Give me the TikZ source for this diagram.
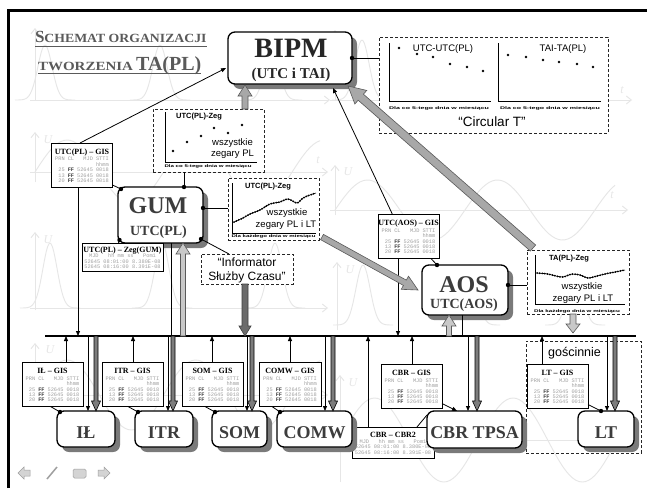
\documentclass[tikz,border=0pt]{standalone}
\usepackage{graphicx}
\usepackage{fontspec}
\setmainfont{Liberation Sans}
\newfontfamily\tnr{Liberation Serif}
\newfontfamily\mono{Liberation Mono}
\usetikzlibrary{calc,arrows.meta,shadows}
\definecolor{bgc}{HTML}{E6E6E6}
\definecolor{shad}{HTML}{7A7A7A}
\definecolor{txtd}{HTML}{3C3C3C}
\definecolor{ttl}{HTML}{5A5A5A}
\definecolor{rowg}{HTML}{A0A0A0}
\definecolor{fatg}{HTML}{A8A8A8}
\definecolor{fatl}{HTML}{C8C8C8}
\definecolor{fatd}{HTML}{7C7C7C}
\definecolor{navg}{HTML}{D4D4D4}

\newcommand\ffx{\textcolor{txtd}{\bfseries FF}}
\newcommand\gtab{{\mono\fontsize{5.3}{6}\selectfont\color{rowg}\setlength\tabcolsep{1.5pt}\renewcommand\arraystretch{0.9}\begin{tabular}{@{}rrrr@{}}PRN&CL&MJD&STTI\\&&&hhmm\\25&\ffx&52645&0018\\13&\ffx&52645&0018\\20&\ffx&52645&0018\end{tabular}}}
\newcommand\gisbox[1]{\begin{tabular}{@{}c@{}}{\tnr\bfseries\fontsize{8}{9}\selectfont #1}\\[-1pt]\gtab\end{tabular}}
\newcommand\zegbox[1]{\begin{tabular}{@{}c@{}}{\tnr\bfseries\fontsize{8}{9}\selectfont #1}\\[-1.5pt]{\mono\fontsize{5.3}{6}\selectfont\color{rowg}\renewcommand\arraystretch{0.9}\begin{tabular}{@{}c@{}}MJD~~~hh~mm~ss~~~Pom1\\52645 08:01:00 8.380E-08\\52645 08:16:00 8.391E-08\end{tabular}}\end{tabular}}
\newcommand\tinyline[2]{\resizebox{#1}{2.8pt}{\bfseries #2}}

\newcommand\fatarrow[6]{%
  \draw[#1] ($(#2)!#4!90:(#3)$)
    -- ($($(#3)!#6!(#2)$)!#4!90:(#3)$)
    -- ($($(#3)!#6!(#2)$)!#5!90:(#3)$)
    -- (#3)
    -- ($($(#3)!#6!(#2)$)!#5!-90:(#3)$)
    -- ($($(#3)!#6!(#2)$)!#4!-90:(#3)$)
    -- ($(#2)!#4!-90:(#3)$) -- cycle;}
\newcommand\thinDown[2]{\path ($(#1.north)+(#2,0)$) coordinate (tmpb); \draw[ar] (tmpb |- busL) -- (tmpb);}
\newcommand\fatDown[2]{\path ($(#1.north)+(#2,0)$) coordinate (tmpb); \path (tmpb |- busL) coordinate (tmpa); \fatarrow{fatD}{tmpa}{tmpb}{2pt}{4.5pt}{10pt}}
\newcommand\upBus[2]{\path ($(#1.north)+(#2,0)$) coordinate (tmpb); \draw[ar] (tmpb) -- (tmpb |- busL);}

\begin{document}
\begin{tikzpicture}[x=1pt,y=-1pt,
  every node/.style={inner sep=0pt, outer sep=0pt},
  mainbox/.style={draw=black, line width=1.3pt, fill=white, rounded corners=7pt,
    general shadow={fill=shad, shadow xshift=5pt, shadow yshift=-5pt}},
  gis/.style={draw=black, line width=0.9pt, fill=white, minimum width=61, minimum height=44},
  dbox/.style={draw=black!85, line width=0.9pt, dash pattern=on 3pt off 2pt, fill=white},
  ln/.style={line width=0.8pt},
  ar/.style={ln, -{Triangle[length=5pt,width=4pt]}},
  big/.style={anchor=base, text=txtd, font={\tnr\bfseries\fontsize{18}{18}\selectfont}},
  ptitle/.style={font={\bfseries\fontsize{7.5}{7.5}\selectfont}},
  plbl/.style={font={\fontsize{9.5}{9.5}\selectfont}},
  bga/.style={bgc, line width=0.9pt},
  bgax/.style={bgc, line width=0.9pt, -{Straight Barb[length=5pt,width=8pt]}},
  bgl/.style={text=bgc, font={\tnr\itshape\fontsize{12}{12}\selectfont}},
  fatA/.style={fill=fatg, draw=black!65, line width=0.6pt},
  fatL/.style={fill=fatl, draw=black!65, line width=0.6pt},
  fatD/.style={fill=fatd, draw=black, line width=0.6pt},
  fatI/.style={fill=black!58, draw=black!75, line width=0.6pt},
  wavy/.style={line width=2pt, dash pattern=on 0pt off 2.6pt, line cap=round}
]
\useasboundingbox (0,0) rectangle (647,488);
\fill[white] (0,0) rectangle (647,488);

% ---------- faint background graphs ----------
\draw[bgax] (35,100) -- (35,28);
\draw[bgax] (30,100) -- (330,100);
\foreach \c in {45,160,272} \draw[bga] plot[domain=-30:30, samples=40] ({\c+\x},{100-55*exp(-((\x/10)*(\x/10)))});
\draw[bgax] (335,100) -- (335,30);
\draw[bgax] (330,100) -- (632,100);
\foreach \c in {362,463,567} \draw[bga] plot[domain=-30:30, samples=40] ({\c+\x},{100-60*exp(-((\x/10)*(\x/10)))});
\node[bgl] (bt1) at (622,90) {t};
\draw[bgax] (35,182) -- (35,132);
\draw[bgax] (30,172) -- (328,172);
\draw[bga] plot[domain=35:320, samples=90] (\x,{172-32*sin(2.8*(\x-35))});
\node[bgl] (bu2) at (48,140) {U};
\node[bgl] (bt2) at (318,160) {t};
\draw[bgax] (335,215) -- (335,165);
\draw[bgax] (330,210) -- (628,210);
\draw[bga] plot[domain=335:615, samples=90] (\x,{210-30*sin(2.77*(\x-335))});
\node[bgl] (bu3) at (348,172) {U};
\node[bgl] (bt3) at (612,195) {t};
\draw[bgax] (35,310) -- (35,232);
\draw[bgax] (30,308) -- (328,308);
\foreach \c in {50,162,275} \draw[bga] plot[domain=-30:30, samples=40] ({\c+\x},{308-65*exp(-((\x/10)*(\x/10)))});
\node[bgl] (bu4) at (48,240) {U};
\draw[bgax] (337,330) -- (337,262);
\foreach \c in {363,470,575} \draw[bga] plot[domain=-30:30, samples=40] ({\c+\x},{325-60*exp(-((\x/10)*(\x/10)))});
\node[bgl] (bu5) at (350,270) {U};
\draw[bgax] (35,405) -- (35,343);
\draw[bgax] (30,395) -- (328,395);
\draw[bga] plot[domain=35:320, samples=90] (\x,{395-35*sin(2.8*(\x-35))});
\node[bgl] (bu6) at (50,350) {U};
\draw[bgax] (340,482) -- (340,375);
\draw[bgax] (335,440) -- (630,440);
\draw[bga] plot[domain=340:620, samples=90] (\x,{440-42*sin(2.6*(\x-340))});
\node[bgl] (bu7) at (353,383) {U};

% ---------- frame ----------
\draw[line width=3pt] (8.5,488) -- (8.5,10) -- (647,10);

% ---------- title ----------
\node[anchor=base west, text=ttl] (t1) at (35,42.3) {\tnr\bfseries\fontsize{17}{17}\selectfont S\fontsize{12.5}{12.5}\selectfont\scalebox{1.1}[1]{CHEMAT ORGANIZACJI}};
\node[anchor=base west, text=ttl] (t2) at (38,70.7) {\tnr\bfseries\fontsize{12.5}{12.5}\selectfont\scalebox{1.2}[1]{TWORZENIA}\ \fontsize{20}{20}\selectfont TA(PL)};
\draw[ttl, line width=0.9pt] ($(t1.base west)+(0,4.5)$) -- ($(t1.base east)+(0,4.5)$);
\draw[ttl, line width=0.9pt] ($(t2.base west)+(0,3)$) -- ($(t2.base east)+(0,3)$);

% ---------- BIPM ----------
\node[mainbox, minimum width=124, minimum height=52] (bipm) at (290,58) {};
\node[anchor=base, text=black!85] (bipm1) at (291,57) {\tnr\bfseries\fontsize{28}{28}\selectfont BIPM};
\node[anchor=base, text=black!85] (bipm2) at (291,78) {\tnr\bfseries\fontsize{15}{15}\selectfont (UTC i TAI)};

% ---------- Circular T ----------
\node[dbox, minimum width=229, minimum height=96] (circ) at (493.5,85) {};
\draw[ln] (389,43) -- (389,101) -- (491,101);
\draw[ln] (498,43) -- (498,101) -- (601,101);
\node[plbl] (ct1) at (443,49.5) {UTC-UTC(PL)};
\node[plbl] (ct2) at (563,49.5) {TAI-TA(PL)};
\foreach \p in {(399,48),(417,54),(433,57),(450,64),(467,67),(483,71),(508,55),(526,57),(543,60),(559,62),(577,64),(593,67)}
  \fill \p circle[radius=1.4pt];
\node (ct3) at (439,109) {\tinyline{100pt}{Dla co 5-tego dnia w miesiącu}};
\node (ct4) at (550,109) {\tinyline{100pt}{Dla co 5-tego dnia w miesiącu}};
\node (ct5) at (492,122) {\fontsize{13.5}{13.5}\selectfont “Circular T”};
\draw[ln] (bipm.east) -- (circ.west |- bipm.east);
\fill (bipm.east) circle[radius=2.2pt];

% ---------- UTC(PL)-Zeg (top) ----------
\node[dbox, minimum width=111, minimum height=63] (zeg1) at (208.5,140.5) {};
\draw[ln] (165,112) -- (165,162) -- (257,162);
\node[ptitle] (z1t) at (199,116.5) {UTC(PL)-Zeg};
\foreach \p in {(173,151),(187,142),(201,136),(214,128),(228,133),(242,125)}
  \fill \p circle[radius=1.4pt];
\node[plbl] (z1a) at (232.5,143.5) {wszystkie};
\node[plbl] (z1b) at (232.5,154.5) {zegary PL};
\node (z1c) at (208,166.5) {\tinyline{87pt}{Dla co 5-tego dnia w miesiącu}};

% ---------- UTC(PL)-Zeg (right of GUM) ----------
\node[dbox, minimum width=91, minimum height=62] (zeg2) at (273.5,209) {};
\draw[ln] (232,183) -- (232,233) -- (316,233);
\node[ptitle] (z2t) at (268,187) {UTC(PL)-Zeg};
\draw[line width=0.6pt] plot[smooth] coordinates {(234,222) (243,218) (250,214) (260,210) (270,204) (280,202) (288,199) (297,203) (303,198) (310,195) (316,193)};
\draw[wavy] plot[smooth] coordinates {(234,222) (243,218) (250,214) (260,210) (270,204) (280,202) (288,199) (297,203) (303,198) (310,195) (316,193)};
\node[plbl] (z2a) at (287,213) {wszystkie};
\node[plbl] (z2b) at (286,225) {zegary PL i LT};
\node (z2c) at (273.5,236.5) {\tinyline{84pt}{Dla każdego dnia w miesiącu}};

% ---------- TA(PL)-Zeg ----------
\node[dbox, minimum width=102, minimum height=64] (tazeg) at (578,282) {};
\draw[ln] (535,255) -- (535,304) -- (625,304);
\node[ptitle] (tz1) at (569,259) {TA(PL)-Zeg};
\draw[line width=0.6pt] plot[smooth] coordinates {(537,273) (548,274) (556,276) (563,277) (572,274) (580,275) (588,278) (597,276) (605,274) (615,272) (625,270)};
\draw[wavy] plot[smooth] coordinates {(537,273) (548,274) (556,276) (563,277) (572,274) (580,275) (588,278) (597,276) (605,274) (615,272) (625,270)};
\node[plbl] (tz2) at (582,287.5) {wszystkie};
\node[plbl] (tz3) at (583,299) {zegary PL i LT};
\node (tz4) at (577,311.5) {\tinyline{86pt}{Dla każdego dnia w miesiącu}};

% ---------- Informator ----------
\node[dbox, minimum width=92, minimum height=30] (info) at (247,269) {};
\node (inf1) at (247,262) {\fontsize{12}{12}\selectfont “Informator};
\node (inf2) at (247,277) {\fontsize{12}{12}\selectfont Służby Czasu”};

% ---------- gościnnie ----------
\node[dbox, fill=none, minimum width=115, minimum height=112] (gosc) at (583.5,397) {};
\node (gos1) at (574.5,353) {\fontsize{12.5}{12.5}\selectfont gościnnie};

% ---------- GUM ----------
\node[gis] (gpl) at (82,165) {\gisbox{UTC(PL) – GIS}};
\node[mainbox, minimum width=85, minimum height=56] (gum) at (160.5,215) {};
\node[anchor=base, text=txtd] (gum1) at (158,213) {\tnr\bfseries\fontsize{24}{24}\selectfont GUM};
\node[anchor=base, text=txtd] (gum2) at (158.5,235) {\tnr\bfseries\fontsize{14}{14}\selectfont UTC(PL)};
\node[draw=black, line width=0.9pt, fill=white, minimum width=81, minimum height=28] (gzg) at (122.5,257) {\zegbox{UTC(PL) – Zeg(GUM)}};

% ---------- AOS ----------
\node[gis] (gaos) at (408.5,236.5) {\gisbox{UTC(AOS) – GIS}};
\node[mainbox, minimum width=86, minimum height=50] (aos) at (465,290) {};
\node[anchor=base, text=txtd] (aos1) at (464,292) {\tnr\bfseries\fontsize{24}{24}\selectfont AOS};
\node[anchor=base, text=txtd] (aos2) at (464,308.5) {\tnr\bfseries\fontsize{14}{14}\selectfont UTC(AOS)};

% ---------- bus ----------
\coordinate (busL) at (45,336);
\coordinate (busR) at (636,336);
\draw[line width=1.2pt] (busL) -- (busR);

% ---------- bottom modules ----------
\node[gis] (gil) at (52.5,384.5) {\gisbox{IŁ – GIS}};
\node[gis] (gitr) at (132.5,384.5) {\gisbox{ITR – GIS}};
\node[gis] (gsom) at (212.5,384.5) {\gisbox{SOM – GIS}};
\node[gis, minimum width=62] (gcomw) at (290,384.5) {\gisbox{COMW – GIS}};
\node[gis] (gcbr) at (411.5,386.5) {\gisbox{CBR – GIS}};
\node[gis] (glt) at (557.5,386.5) {\gisbox{LT – GIS}};
\node[draw=black, line width=0.9pt, fill=white, minimum width=82, minimum height=31] (cbr2) at (393,442.5) {\zegbox{CBR – CBR2}};
\node[mainbox, minimum width=58, minimum height=36] (bil) at (86,429) {};
\node[mainbox, minimum width=58, minimum height=36] (bitr) at (164,429) {};
\node[mainbox, minimum width=55, minimum height=36] (bsom) at (239.5,429) {};
\node[mainbox, minimum width=75, minimum height=36] (bcomw) at (314.5,429) {};
\node[mainbox, minimum width=95, minimum height=37] (bcbr) at (474.5,429.5) {};
\node[mainbox, minimum width=56, minimum height=36] (blt) at (606,429) {};
\node[big] (bil1) at (86,438) {IŁ};
\node[big] (bitr1) at (164,438) {ITR};
\node[big] (bsom1) at (239.5,438) {SOM};
\node[big] (bcomw1) at (314.5,438) {COMW};
\node[big] (bcbr1) at (474.5,438.5) {CBR TPSA};
\node[big] (blt1) at (606,438) {LT};

% up arrows to bus
\upBus{gil}{13.5}
\upBus{gitr}{0.5}
\upBus{gsom}{-0.5}
\upBus{gcomw}{0}
\upBus{gcbr}{0.5}
\upBus{cbr2}{-25}
\upBus{glt}{-15.5}
% thin down arrows
\thinDown{bil}{2}
\thinDown{bitr}{4}
\thinDown{bsom}{7.5}
\thinDown{bcomw}{10.5}
\thinDown{bcbr}{-6.5}
\thinDown{blt}{1}
% thick down arrows
\fatDown{bil}{10}
\fatDown{bitr}{9}
\fatDown{bsom}{12.5}
\fatDown{bcomw}{18.5}
\fatDown{bcbr}{2.5}
\fatDown{blt}{9}
% dots gis -> box
\draw[ln] ($(gil.south)+(-2,0)$) -- ($(bil.north west)+(3,1)$) coordinate (dd); \fill (dd) circle[radius=2.2pt];
\draw[ln] ($(gitr.south)+(-4.5,0)$) -- ($(bitr.north west)+(3,1)$) coordinate (dd); \fill (dd) circle[radius=2.2pt];
\draw[ln] ($(gsom.south)+(-7.5,0)$) -- ($(bsom.north west)+(3,1)$) coordinate (dd); \fill (dd) circle[radius=2.2pt];
\draw[ln] ($(gcomw.south)+(-18,0)$) -- ($(bcomw.north west)+(3,1)$) coordinate (dd); \fill (dd) circle[radius=2.2pt];
\draw[ln] ($(glt.south east)+(0,-4)$) -- ($(blt.north west)+(23,0)$) coordinate (dd); \fill (dd) circle[radius=2.2pt];
\draw[ar] ($(gcbr.south east)+(0,-5)$) -- ($(bcbr.north west)+(30,0)$);
\draw[ln] ($(cbr2.north east)+(-17,0)$) -- ($(bcbr.north west)+(0,4)$);

% ---------- GUM connectors ----------
\draw[ar] ($(gpl.north)+(-2,0)$) -- ($(bipm.south west)+(-2,-16)$);
\path ($(zeg1.north)+(36.5,0)$) coordinate (fa1);
\path ($(bipm.south)+(-45,1)$) coordinate (fb1);
\fatarrow{fatA}{fa1}{fb1}{3pt}{7pt}{11pt}
\path ($(gum.north)+(23.5,0)$) coordinate (dg1);
\draw[ln] (dg1) -- (dg1 |- zeg1.south); \fill (dg1) circle[radius=2.2pt];
\path ($(gum.east)+(0,-7)$) coordinate (dg2);
\draw[ln] (dg2) -- (zeg2.west |- dg2); \fill (dg2) circle[radius=2.2pt];
\path ($(gum.south east)+(-2,-4)$) coordinate (dg3);
\draw[ln] (dg3) -- ($(info.north)+(-18,0)$); \fill (dg3) circle[radius=2.2pt];
\path ($(gum.north west)+(3,2)$) coordinate (dg4);
\draw[ln] (dg4) -- ($(gpl.south east)+(0,-2)$); \fill (dg4) circle[radius=2.2pt];
\path ($(gum.south west)+(1.5,-3)$) coordinate (dg5);
\draw[ln] (dg5) -- ($(gzg.north)+(-4,0)$); \fill (dg5) circle[radius=2.2pt];
\draw[ar] ($(gpl.south)+(-4,0)$) coordinate (c1) -- (c1 |- busL);
\path ($(gum.south)+(10.5,0)$) coordinate (c2);
\draw[ln] (c2) -- (c2 |- busL);
\path ($(gum.south)+(22.5,0)$) coordinate (fb2);
\path (fb2 |- busL) coordinate (fa2);
\fatarrow{fatL}{fa2}{fb2}{2.5pt}{7pt}{11pt}
\path ($(info.south)+(-2,0)$) coordinate (fa3);
\path (fa3 |- busL) coordinate (fb3);
\fatarrow{fatI}{fa3}{fb3}{3pt}{6pt}{10pt}

% ---------- AOS connectors ----------
\draw[ar] ($(gaos.south)+(-10.5,0)$) coordinate (c3) -- (c3 |- busL);
\draw[ar] ($(gaos.north)+(-16,0)$) -- ($(bipm.south east)+(-19,4)$);
\path ($(aos.north west)+(15,0)$) coordinate (da1);
\draw[ln] (da1) -- ($(gaos.south east)+(-8,0)$); \fill (da1) circle[radius=2.2pt];
\path ($(aos.east)+(0,-5)$) coordinate (da2);
\draw[ln] (da2) -- (tazeg.west |- da2); \fill (da2) circle[radius=2.2pt];
\path ($(aos.south)+(-16,0)$) coordinate (fb4);
\path (fb4 |- busL) coordinate (fa4);
\fatarrow{fatL}{fa4}{fb4}{2.5pt}{7pt}{11pt}
\path ($(aos.south)+(-3,0)$) coordinate (c4);
\draw[ln] (c4) -- (c4 |- busL);
\path ($(zeg2.south east)+(3,-3)$) coordinate (fa5);
\path ($(aos.west)+(-4,0)$) coordinate (fb5);
\fatarrow{fatA}{fa5}{fb5}{3pt}{7.5pt}{15pt}
\path ($(tazeg.north west)+(6,-2)$) coordinate (fa6);
\path ($(bipm.south east)+(-4,2)$) coordinate (fb6);
\fatarrow{fatA}{fa6}{fb6}{4pt}{9pt}{17pt}
\path ($(tazeg.south)+(-5,0)$) coordinate (fa7);
\path ($(fa7 |- busL)+(0,-3)$) coordinate (fb7);
\fatarrow{fatL}{fa7}{fb7}{3pt}{7pt}{9pt}

% ---------- navigation icons ----------
\filldraw[fill=navg, draw=navg!75!black, line width=0.5pt] (30,470) -- (24,470) -- (24,467) -- (18,473) -- (24,479) -- (24,476) -- (30,476) -- cycle;
\draw[navg!75!black, line width=1.5pt] (47,479) -- (57,467);
\filldraw[fill=navg, draw=navg!75!black, line width=0.5pt, rounded corners=1.5pt] (73,469) rectangle (86,478);
\filldraw[fill=navg, draw=navg!75!black, line width=0.5pt] (98,470) -- (104,470) -- (104,467) -- (110,473) -- (104,479) -- (104,476) -- (98,476) -- cycle;
\end{tikzpicture}
\end{document}
